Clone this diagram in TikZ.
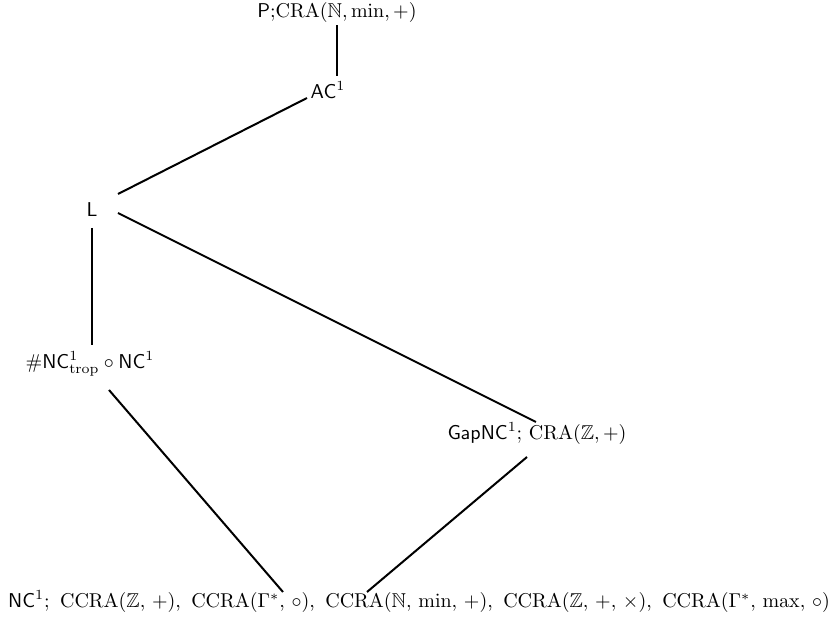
\documentclass[tikz,border=0pt]{standalone}
\usepackage{amssymb}
% a slightly wider comma and item gap for the long bottom row
\newcommand{\wc}{,\mkern3mu}
\newcommand{\igap}{\hspace{5.2pt}}
\begin{document}
\begin{tikzpicture}[x=0.5pt,y=-0.5pt,
  cls/.style={inner sep=0pt,anchor=base,font=\fontsize{10}{12}\selectfont},
  edge/.style={line width=1pt}]
\useasboundingbox (0,0) rectangle (832,625);
% complexity classes, placed by their baselines
\node[cls] (top) at (337,17.5) {$\mathsf{P}{;}\mathrm{CRA}(\mathbb{N},\min,+)$};
\node[cls] (ac)  at (328,99) {$\mathsf{AC}^1$};
\node[cls] (l)   at (92,217) {$\mathsf{L}$};
\node[cls] (nc)  at (90,369) {$\#\mathsf{NC}^1_{\mathrm{trop}}\circ\mathsf{NC}^1$};
\node[cls] (gap) at (537,440) {$\mathsf{GapNC}^1$; $\mathrm{CRA}(\mathbb{Z},+)$};
\node[cls] (bot) at (419,608) {$\mathsf{NC}^1$;\igap$\mathrm{CCRA}(\mathbb{Z}\wc+)$,\igap$\mathrm{CCRA}(\Gamma^*\wc\circ)$,\igap$\mathrm{CCRA}(\mathbb{N}\wc\min\wc+)$,\igap$\mathrm{CCRA}(\mathbb{Z}\wc+\wc\times)$,\igap$\mathrm{CCRA}(\Gamma^*\wc\max\wc\circ)$};
% inclusions
\draw[edge] ([shift={(0,8)}]top.base) -- ([shift={(9,-23)}]ac.base);
\draw[edge] ([shift={(-21,-1)}]ac.base) -- ([shift={(26,-23)}]l.base);
\draw[edge] ([shift={(0,11)}]l.base) -- ([shift={(2,-24)}]nc.base);
\draw[edge] ([shift={(26,-4)}]l.base) -- ([shift={(-1,-18)}]gap.base);
\draw[edge] ([shift={(19,21)}]nc.base) -- ([shift={(-136,-16)}]bot.base);
\draw[edge] ([shift={(-10,17)}]gap.base) -- ([shift={(-52,-16)}]bot.base);
\end{tikzpicture}
\end{document}
